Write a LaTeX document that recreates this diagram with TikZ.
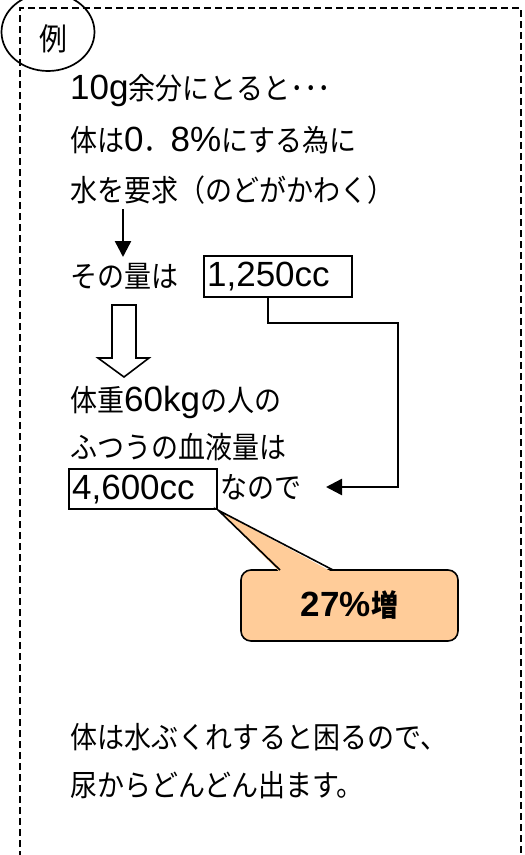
\documentclass[tikz,border=0pt]{standalone}
\usepackage{fontspec}
\setmainfont{Noto Sans CJK JP}[FakeStretch=0.9]
\newfontfamily\lat{Liberation Sans}[Scale=1.167]
\usetikzlibrary{arrows.meta,shapes.geometric}
\definecolor{calloutfill}{HTML}{FFCC99}
\begin{document}
\begin{tikzpicture}[x=1pt,y=-1pt,
  txt/.style={anchor=base west,inner sep=0pt,font=\fontsize{30pt}{36pt}\selectfont},
  numbox/.style={draw,line width=2.2pt,inner xsep=3pt,inner ysep=0pt,text width=142pt,align=left,
     minimum height=41pt,font=\fontsize{30pt}{36pt}\selectfont},
  conn/.style={line width=2.4pt},
  tip/.style={-{Triangle[width=16pt,length=16pt]}},
  frame/.style={line width=1.8pt,dash pattern=on 7pt off 4pt},
  callout/.style={draw,line width=1.6pt,fill=calloutfill,rounded corners=10pt,
     minimum width=217pt,minimum height=71pt,font=\fontsize{30pt}{36pt}\selectfont\bfseries},
  hollow/.style={draw,line width=1.6pt,fill=white,line join=miter}
]
\useasboundingbox (0,0) rectangle (525,855);
% frame
\draw[frame] (20,880) -- (20,8) -- (521,8) -- (521,880);
% label
\node[draw,ellipse,line width=1.7pt,minimum width=93pt,minimum height=78pt] (rei) at (48,32) {};
\node[font=\fontsize{31pt}{36pt}\selectfont,inner sep=0pt] (reitxt) at (53,39) {例};
% texts
\node[txt] (l1) at (70,99) {{\lat 10g}余分にとると･･･};
\node[txt] (l2) at (70,151) {体は{\lat 0}．{\lat 8\%}にする為に};
\node[txt] (l3) at (70,201) {水を要求（のどがかわく）};
\coordinate (a1s) at (123,209);
\coordinate (a1e) at (123,257);
\draw[line width=2.4pt,tip] (a1s) -- (a1e);
\node[txt] (l4) at (70,287) {その量は};
\node[numbox,anchor=north west] (b1) at (203,255) {\lat 1,250cc};
% hollow arrow
\draw[hollow] (112,305) -- (136,305) -- (136,358) -- (149,358) -- (124,377) -- (98,358) -- (112,358) -- cycle;
\node[txt] (l5) at (70,411) {体重{\lat 60kg}の人の};
\node[txt] (l6) at (70,458) {ふつうの血液量は};
\node[numbox,anchor=north west,minimum height=40pt] (b2) at (68,468) {\lat 4,600cc};
\node[txt] (l7) at (220,498) {なので};
% connector
\coordinate (turn) at (398,323);
\coordinate (arrtip) at (326,487);
\draw[conn,tip] ([xshift=65pt]b1.south west) |- (turn) |- (arrtip);
% callout
\node[callout] (c) at (349.5,605.5) {{\lat 27\%}増};
\fill[calloutfill] (280,572.5) -- (b2.south east) -- (333,572.5) -- cycle;
\draw[line width=1.6pt,line join=miter] (280,570) -- (b2.south east) -- (333,570);
% bottom text
\node[txt] (l8) at (70,748) {体は水ぶくれすると困るので、};
\node[txt] (l9) at (70,796) {尿からどんどん出ます。};
\end{tikzpicture}
\end{document}
